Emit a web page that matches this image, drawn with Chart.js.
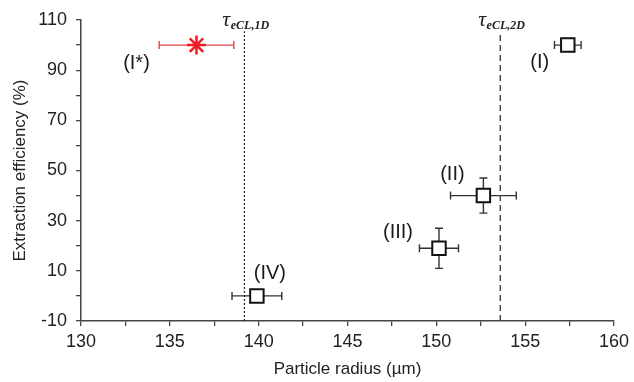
<!DOCTYPE html>
<html>
<head>
<meta charset="utf-8">
<script src="https://cdn.jsdelivr.net/npm/chart.js@4.4.0/dist/chart.umd.min.js"></script>
<style>
  html, body { margin: 0; padding: 0; background: #fff; }
  #wrap { width: 634px; height: 382px; }
</style>
</head>
<body>
<div id="wrap"><canvas id="chart" width="634" height="382"></canvas></div>
<script>
// samples I..IV (black squares)
const radius = [157.4, 152.65, 150.15, 139.9];
const radiusErr = [0.75, 1.85, 1.1, 1.4];
const efficiency = [100, 40, 19, 0];
const efficiencyErr = [0, 7, 8, 0];
const sampleLabels = ['(I)', '(II)', '(III)', '(IV)'];

// sample I* (red star)
const starRadius = [136.5];
const starRadiusErr = [2.1];
const starEfficiency = [100];
const starLabels = ['(I*)'];

// threshold lines
const thresholds = [139.2, 153.6];
const thresholdNames = ['eCL,1D', 'eCL,2D'];

// label offsets from their point, px
const sampleOffsets = [[-28, 17], [-31, -21], [-41, -16], [13, -22]];
const starOffsets = [[-60, 18]];

const ctx = document.getElementById('chart').getContext('2d');

const errorBars = {
    id: 'errorBars',
    beforeDatasetsDraw(chart) {
        const c = chart.ctx;
        const xs = chart.scales.x, ys = chart.scales.y;
        const draw = (xv, yv, xe, ye, color) => {
            const px = xs.getPixelForValue(xv), py = ys.getPixelForValue(yv);
            c.save();
            c.strokeStyle = color;
            c.lineWidth = 1.4;
            c.beginPath();
            if (xe > 0) {
                const x1 = xs.getPixelForValue(xv - xe), x2 = xs.getPixelForValue(xv + xe);
                c.moveTo(x1, py); c.lineTo(x2, py);
                c.moveTo(x1, py - 4); c.lineTo(x1, py + 4);
                c.moveTo(x2, py - 4); c.lineTo(x2, py + 4);
            }
            if (ye > 0) {
                const y1 = ys.getPixelForValue(yv - ye), y2 = ys.getPixelForValue(yv + ye);
                c.moveTo(px, y1); c.lineTo(px, y2);
                c.moveTo(px - 4, y1); c.lineTo(px + 4, y1);
                c.moveTo(px - 4, y2); c.lineTo(px + 4, y2);
            }
            c.stroke();
            c.restore();
        };
        radius.forEach((r, i) => draw(r, efficiency[i], radiusErr[i], efficiencyErr[i], '#333'));
        starRadius.forEach((r, i) => draw(r, starEfficiency[i], starRadiusErr[i], 0, '#d9474f'));
    },
    afterDatasetsDraw(chart) {
        const c = chart.ctx;
        const xs = chart.scales.x, ys = chart.scales.y;
        c.save();
        c.fillStyle = '#1a1a1a';
        c.font = '20px "Liberation Sans", Arial, sans-serif';
        c.textAlign = 'center';
        c.textBaseline = 'middle';
        sampleLabels.forEach((t, i) => {
            c.fillText(t, xs.getPixelForValue(radius[i]) + sampleOffsets[i][0],
                ys.getPixelForValue(efficiency[i]) + sampleOffsets[i][1]);
        });
        starLabels.forEach((t, i) => {
            c.fillText(t, xs.getPixelForValue(starRadius[i]) + starOffsets[i][0],
                ys.getPixelForValue(starEfficiency[i]) + starOffsets[i][1]);
        });
        // tau labels
        c.textAlign = 'left';
        c.textBaseline = 'alphabetic';
        const tauFont = 'italic 22px "Liberation Serif", "DejaVu Serif", serif';
        const subFont = 'italic bold 12px "Liberation Serif", "DejaVu Serif", serif';
        thresholds.forEach((v, i) => {
            const px = xs.getPixelForValue(v);
            const base = chart.chartArea.top + 6;
            c.font = tauFont;
            const w1 = c.measureText('\u03C4').width;
            c.font = subFont;
            const w2 = c.measureText(thresholdNames[i]).width;
            const x0 = px - (w1 + w2) / 2 + 1;
            c.fillStyle = '#222';
            c.font = tauFont;
            c.fillText('\u03C4', x0, base);
            c.font = subFont;
            c.fillText(thresholdNames[i], x0 + w1 + 0.5, base + 3);
        });
        c.restore();
    }
};

const lineTop = 105.5;
const datasets = [
    {
        type: 'line',
        data: [{ x: thresholds[0], y: -10 }, { x: thresholds[0], y: lineTop }],
        borderColor: '#222',
        borderWidth: 1.2,
        borderDash: [2, 2],
        pointRadius: 0,
        fill: false
    },
    {
        type: 'line',
        data: [{ x: thresholds[1], y: -10 }, { x: thresholds[1], y: lineTop }],
        borderColor: '#444',
        borderWidth: 1.4,
        borderDash: [6, 4],
        pointRadius: 0,
        fill: false
    },
    {
        data: radius.map((r, i) => ({ x: r, y: efficiency[i] })),
        pointStyle: 'rect',
        pointRadius: 9.5,
        pointBorderWidth: 2,
        borderColor: '#111',
        backgroundColor: '#fff',
        pointHoverRadius: 9.5
    },
    {
        data: starRadius.map((r, i) => ({ x: r, y: starEfficiency[i] })),
        pointStyle: 'star',
        pointRadius: 9.5,
        pointBorderWidth: 2.5,
        borderColor: '#ee1c25',
        backgroundColor: '#ee1c25'
    }
];

const tickFont = { family: '"Liberation Sans", Arial, sans-serif', size: 18 };

new Chart(ctx, {
    type: 'scatter',
    data: { datasets: datasets },
    options: {
        responsive: false,
        animation: false,
        events: [],
        layout: { padding: { top: 20, right: 17, left: 0, bottom: 0 } },
        plugins: { legend: { display: false }, tooltip: { enabled: false } },
        scales: {
            x: {
                type: 'linear',
                min: 130, max: 160,
                afterFit: (s) => { s.height = 61; },
                ticks: {
                    stepSize: 2.5,
                    autoSkip: false,
                    maxRotation: 0,
                    color: '#222',
                    font: tickFont,
                    padding: 5,
                    callback: (v) => (v % 5 === 0 ? v : '')
                },
                grid: { drawOnChartArea: false, drawTicks: true, tickLength: 5, color: '#444', lineWidth: 1.3 },
                border: { display: true, color: '#444', width: 1.5 },
                title: {
                    display: true,
                    text: 'Particle radius (\u00B5m)',
                    color: '#222',
                    font: { family: '"Liberation Sans", Arial, sans-serif', size: 17 },
                    padding: { top: 0, bottom: 2 }
                }
            },
            y: {
                type: 'linear',
                min: -10, max: 110,
                afterFit: (s) => { s.width = 81; },
                ticks: {
                    stepSize: 10,
                    autoSkip: false,
                    color: '#222',
                    font: tickFont,
                    padding: 9,
                    callback: (v) => ((v + 10) % 20 === 0 ? v : '')
                },
                grid: { drawOnChartArea: false, drawTicks: true, tickLength: 5, color: '#444', lineWidth: 1.3 },
                border: { display: true, color: '#444', width: 1.5 },
                title: {
                    display: true,
                    text: 'Extraction efficiency (%)',
                    color: '#222',
                    font: { family: '"Liberation Sans", Arial, sans-serif', size: 17 },
                    padding: { top: 10, bottom: 0 }
                }
            }
        }
    },
    plugins: [errorBars]
});
</script>
</body>
</html>
